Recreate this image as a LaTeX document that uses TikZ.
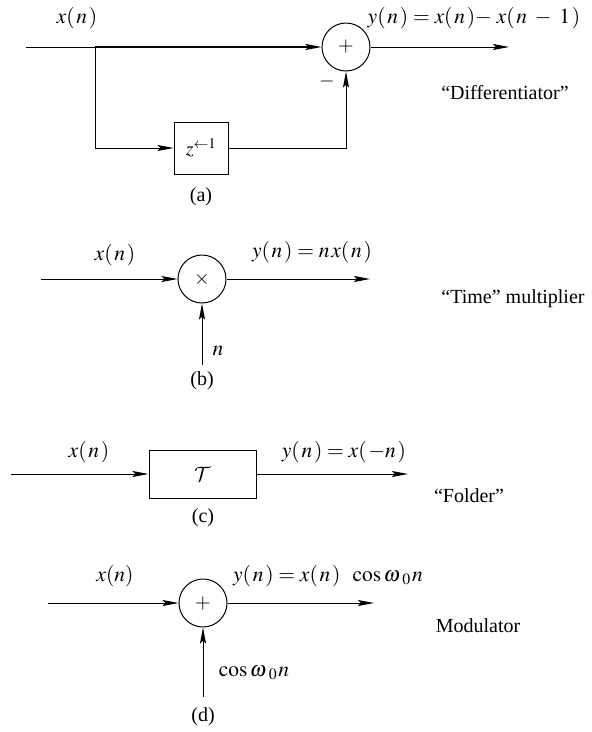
\documentclass[tikz,border=0pt]{standalone}
\usepackage{mathptmx}
\DeclareMathAlphabet{\mathcal}{OMS}{cmsy}{m}{n}
\usepackage{fontspec}
\setmainfont{Liberation Serif}
\usetikzlibrary{arrows.meta}
\newcommand{\pn}[1]{(\mkern1.5mu #1\mkern1.5mu)}
\newcommand{\omz}{\omega\mkern2mu{}_{0}\mkern1mu}
\begin{document}
\begin{tikzpicture}[x=1pt,y=-1pt,
  every node/.style={font=\fontsize{20}{24}\selectfont, inner sep=0pt},
  mathlbl/.style={font=\fontsize{21.5}{25}\selectfont},
  wire/.style={line width=1pt},
  sig/.style={line width=1pt,-{Stealth[length=16pt,width=6pt,inset=3pt]}},
  sumnode/.style={draw,circle,line width=1pt,minimum size=48pt},
  blk/.style={draw,rectangle,line width=1pt}]
\useasboundingbox (0,0) rectangle (592,732);

% (a)
\coordinate (ain) at (26,47);
\coordinate (abr) at (95,47);
\coordinate (aout) at (509,47);
\node[sumnode] (asum) at (346,47) {$+$};
\node[blk,minimum width=54pt,minimum height=52pt] (adel) at (201,148) {$z^{\leftarrow 1}$};
\draw[wire] (ain) -- (abr);
\draw[sig,line width=1.8pt] (abr) -- (asum.west);
\draw[sig] (abr) |- (adel.west);
\draw[sig] (adel.east) -| (asum.south);
\draw[sig] (asum.east) -- (aout);
\node[mathlbl] (axl) at (77,18) {$x\pn{n}$};
\node[mathlbl] (ayl) at (474,18) {$y\pn{n} = x\pn{n}{-}\;x\pn{n \;-\; 1}$};
\node (amin) at (327,81) {$-$};
\node (acap) at (201,197) {(a)};
\node (aname) at (505,93) {“Differentiator”};

% (b)
\coordinate (bin) at (41,279);
\coordinate (bout) at (370,279);
\coordinate (bn) at (202,365);
\node[sumnode] (bmul) at (202,279) {$\times$};
\draw[sig] (bin) -- (bmul.west);
\draw[sig] (bmul.east) -- (bout);
\draw[sig] (bn) -- (bmul.south);
\node[mathlbl] (bxl) at (115,255) {$x\pn{n}$};
\node[mathlbl] (byl) at (312,252) {$y\pn{n} = n\mkern1.5mu x\pn{n}$};
\node[mathlbl] (bnl) at (218,351) {$n$};
\node (bcap) at (202,381) {(b)};
\node (bname) at (513,299) {“Time” multiplier};

% (c)
\coordinate (cin) at (11,474);
\coordinate (cout) at (408,474);
\node[blk,minimum width=107pt,minimum height=48pt] (cfold) at (202.5,474) {$\mathcal{T}$};
\draw[sig] (cin) -- (cfold.west);
\draw[sig] (cfold.east) -- (cout);
\node[mathlbl] (cxl) at (89,452) {$x\pn{n}$};
\node[mathlbl] (cyl) at (344,452) {$y\pn{n} = x\pn{-n}$};
\node (ccap) at (203,518) {(c)};
\node (cname) at (469,496) {“Folder”};

% (d)
\coordinate (din) at (48,603);
\coordinate (dout) at (374,603);
\coordinate (dc) at (203,697);
\node[sumnode] (dmod) at (203,603) {$+$};
\draw[sig] (din) -- (dmod.west);
\draw[sig] (dmod.east) -- (dout);
\draw[sig] (dc) -- (dmod.south);
\node[mathlbl] (dxl) at (115,576) {$x(n)$};
\node[mathlbl] (dyl) at (328,576) {$y\pn{n} = x\pn{n}\;\;\cos\omz n$};
\node[mathlbl] (dcl) at (254,673) {$\cos\omz n$};
\node (dcap) at (203,717) {(d)};
\node (dname) at (478,626) {Modulator};
\end{tikzpicture}
\end{document}
